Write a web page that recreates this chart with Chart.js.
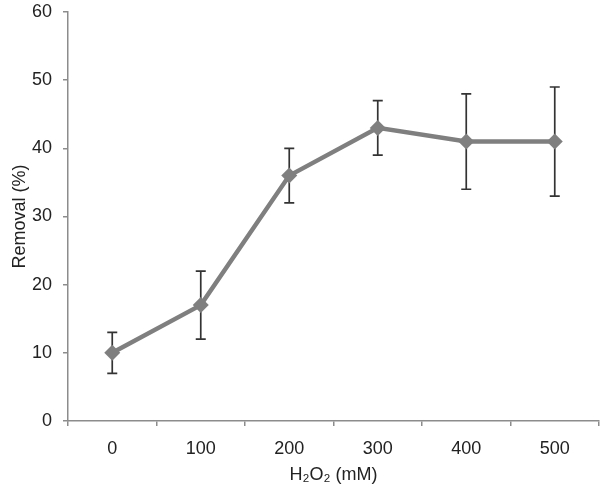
<!DOCTYPE html>
<html>
<head>
<meta charset="utf-8">
<script src="https://cdn.jsdelivr.net/npm/chart.js@4/dist/chart.umd.min.js"></script>
<style>
  html, body { margin: 0; padding: 0; background: #fff; }
  #wrap { width: 600px; height: 492px; }
</style>
</head>
<body>
<div id="wrap"><canvas id="chart1"></canvas></div>
<script>
var categories = ['0', '100', '200', '300', '400', '500'];
var removal = [10, 17, 36, 43, 41, 41];
var errLow = [7, 12, 32, 39, 34, 33];
var errHigh = [13, 22, 40, 47, 48, 49];
var yTicks = [0, 10, 20, 30, 40, 50, 60];

var axisColor = '#8c8c8c';
var textFont = { family: 'Liberation Sans, Arial, sans-serif', size: 18 };

var errorBars = {
    id: 'errorBars',
    beforeDatasetsDraw: function(chart) {
        var ctx = chart.ctx;
        var x = chart.scales.x, y = chart.scales.y;
        ctx.save();
        ctx.strokeStyle = '#333';
        ctx.lineWidth = 1.7;
        for (var i = 0; i < removal.length; i++) {
            var px = x.getPixelForValue(i);
            var lo = y.getPixelForValue(errLow[i]);
            var hi = y.getPixelForValue(errHigh[i]);
            ctx.beginPath();
            ctx.moveTo(px, lo); ctx.lineTo(px, hi);
            ctx.moveTo(px - 5, lo); ctx.lineTo(px + 5, lo);
            ctx.moveTo(px - 5, hi); ctx.lineTo(px + 5, hi);
            ctx.stroke();
        }
        ctx.restore();
    }
};

var ctx = document.getElementById('chart1');
var myChart = new Chart(ctx, {
    type: 'line',
    data: {
        labels: categories,
        datasets: [{
            data: removal,
            borderColor: '#7f7f7f',
            backgroundColor: '#7f7f7f',
            borderWidth: 4.5,
            pointStyle: 'rectRot',
            pointRadius: 8,
            pointBorderWidth: 0,
            tension: 0
        }]
    },
    options: {
        responsive: true,
        maintainAspectRatio: false,
        animation: false,
        layout: { autoPadding: false, padding: { top: 12, right: 1, left: 0, bottom: 0 } },
        plugins: {
            legend: { display: false },
            tooltip: { enabled: false }
        },
        scales: {
            x: {
                offset: true,
                grid: { offset: true, drawOnChartArea: false, drawTicks: true, tickLength: 5, color: axisColor, lineWidth: 1.5 },
                border: { display: true, color: axisColor, width: 1.5 },
                ticks: { color: '#222', font: textFont, padding: 12 },
                title: { display: true, text: 'H\u2082O\u2082 (mM)', color: '#222', font: textFont, padding: { top: 0, bottom: 6 } },
                afterFit: function(scale) { scale.height = 71; scale.paddingLeft = 0; scale.paddingRight = 0; }
            },
            y: {
                min: 0,
                max: 60,
                afterBuildTicks: function(scale) {
                    scale.ticks = yTicks.map(function(v) { return { value: v }; });
                },
                grid: { drawOnChartArea: false, drawTicks: true, tickLength: 5, color: axisColor, lineWidth: 1.5 },
                border: { display: true, color: axisColor, width: 1.5 },
                ticks: { color: '#222', font: textFont, padding: 11 },
                title: { display: true, text: 'Removal (%)', color: '#222', font: textFont, padding: { top: 9, bottom: 0 } },
                afterFit: function(scale) { scale.width = 68; scale.paddingTop = 0; scale.paddingBottom = 0; }
            }
        }
    },
    plugins: [errorBars]
});
</script>
</body>
</html>
